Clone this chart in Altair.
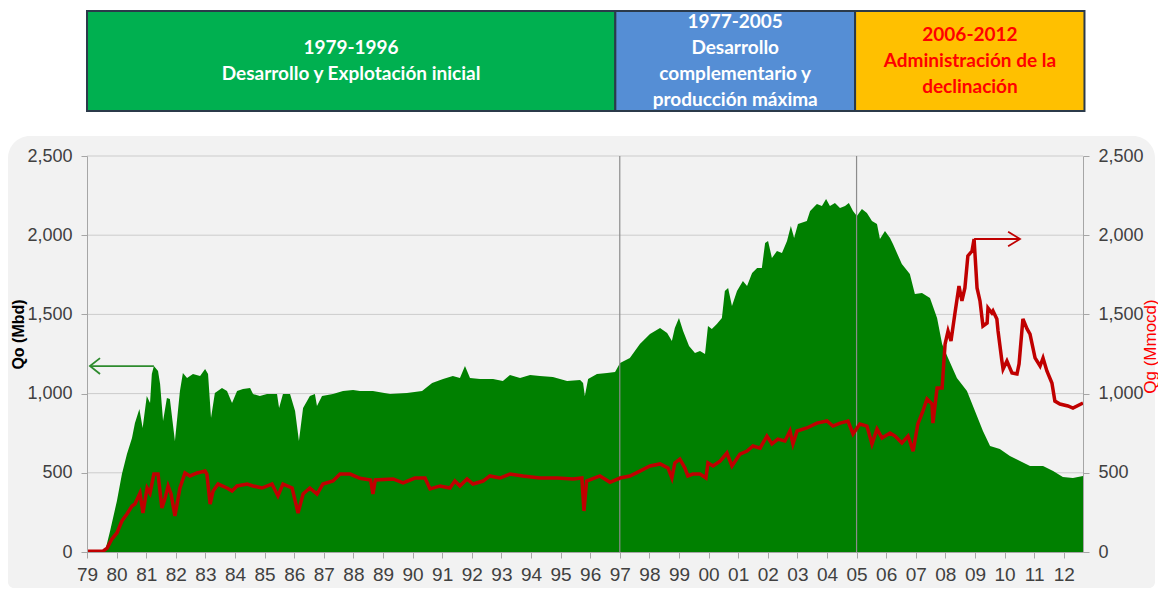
import altair as alt
import pandas as pd

# ---------------- data ----------------
oil_year = [
    1979.00, 1979.54, 1979.61, 1979.78, 1980.01, 1980.18, 1980.35, 1980.52, 1980.62, 1980.77,
    1980.88, 1981.02, 1981.13, 1981.19, 1981.26, 1981.40, 1981.47, 1981.57, 1981.70, 1981.80,
    1981.97, 1982.14, 1982.24, 1982.38, 1982.58, 1982.82, 1982.99, 1983.09, 1983.19, 1983.32,
    1983.56, 1983.73, 1983.90, 1984.07, 1984.27, 1984.51, 1984.61, 1984.84, 1985.08, 1985.25,
    1985.42, 1985.49, 1985.62, 1985.86, 1986.03, 1986.16, 1986.30, 1986.53, 1986.70, 1986.77,
    1986.94, 1987.31, 1987.65, 1987.99, 1988.22, 1988.66, 1989.24, 1989.81, 1990.32, 1990.66,
    1991.03, 1991.36, 1991.60, 1991.77, 1991.94, 1992.28, 1992.72, 1993.05, 1993.29, 1993.63,
    1993.97, 1994.30, 1994.74, 1995.22, 1995.66, 1995.76, 1995.82, 1995.93, 1996.23, 1996.57,
    1996.84, 1997.01, 1997.34, 1997.68, 1998.02, 1998.36, 1998.60, 1998.76, 1998.86, 1999.00,
    1999.14, 1999.34, 1999.54, 1999.71, 1999.88, 1999.98, 2000.11, 2000.28, 2000.45, 2000.55,
    2000.66, 2000.79, 2000.96, 2001.16, 2001.30, 2001.47, 2001.64, 2001.80, 2001.91, 2002.01,
    2002.14, 2002.31, 2002.48, 2002.65, 2002.78, 2002.89, 2003.02, 2003.32, 2003.43, 2003.66,
    2003.83, 2003.97, 2004.10, 2004.27, 2004.44, 2004.61, 2004.74, 2004.88, 2005.01, 2005.18,
    2005.35, 2005.52, 2005.69, 2005.79, 2005.96, 2006.13, 2006.23, 2006.53, 2006.80, 2006.97,
    2007.21, 2007.48, 2007.72, 2007.89, 2008.09, 2008.39, 2008.73, 2009.00, 2009.27, 2009.51,
    2009.84, 2010.18, 2010.52, 2010.86, 2011.30, 2011.64, 2011.97, 2012.31, 2012.65,
]
oil_qo = [
    0, 0, 5, 133, 322, 492, 619, 720, 814, 903,
    783, 985, 941, 1124, 1174, 1143, 1061, 827, 972, 966,
    701, 1016, 1130, 1099, 1124, 1111, 1155, 1124, 846, 1004,
    1035, 1016, 941, 1016, 1029, 1035, 997, 985, 997, 997,
    997, 909, 997, 997, 890, 701, 909, 985, 997, 922,
    985, 997, 1016, 1023, 1016, 1016, 997, 1004, 1016, 1067,
    1092, 1111, 1099, 1174, 1099, 1092, 1092, 1080, 1117, 1099,
    1117, 1111, 1105, 1080, 1086, 1067, 985, 1092, 1124, 1130,
    1136, 1193, 1225, 1313, 1376, 1414, 1383, 1332, 1414, 1477,
    1395, 1300, 1256, 1269, 1250, 1427, 1408, 1439, 1477, 1648,
    1667, 1553, 1648, 1711, 1679, 1761, 1793, 1793, 1951, 1963,
    1856, 1900, 1888, 1963, 2058, 1982, 2071, 2090, 2153, 2197,
    2184, 2228, 2184, 2203, 2172, 2184, 2203, 2153, 2121, 2165,
    2140, 2090, 2071, 1976, 2027, 1982, 1944, 1818, 1755, 1629,
    1635, 1604, 1477, 1313, 1225, 1099, 1016, 890, 764, 669,
    650, 606, 574, 543, 543, 511, 473, 467, 480,
]

gas_year = [
    1979.00, 1979.54, 1979.68, 1979.84, 1980.01, 1980.18, 1980.35, 1980.52, 1980.62, 1980.79,
    1980.89, 1981.03, 1981.13, 1981.26, 1981.40, 1981.53, 1981.64, 1981.74, 1981.84, 1981.97,
    1982.14, 1982.31, 1982.48, 1982.72, 1982.99, 1983.05, 1983.16, 1983.26, 1983.43, 1983.73,
    1983.90, 1984.07, 1984.41, 1984.61, 1984.91, 1985.25, 1985.45, 1985.62, 1985.93, 1986.13,
    1986.30, 1986.53, 1986.77, 1986.97, 1987.31, 1987.55, 1987.89, 1988.22, 1988.58, 1988.66,
    1988.74, 1989.34, 1989.68, 1990.08, 1990.42, 1990.59, 1990.93, 1991.26, 1991.43, 1991.60,
    1991.84, 1992.04, 1992.38, 1992.61, 1992.95, 1993.29, 1993.73, 1994.30, 1994.88, 1995.42,
    1995.72, 1995.79, 1995.88, 1996.33, 1996.67, 1997.01, 1997.34, 1997.68, 1998.02, 1998.36,
    1998.63, 1998.76, 1998.86, 1999.03, 1999.20, 1999.30, 1999.47, 1999.71, 1999.91, 1999.98,
    2000.15, 2000.39, 2000.62, 2000.79, 2001.06, 2001.30, 2001.50, 2001.74, 2001.97, 2002.14,
    2002.34, 2002.58, 2002.75, 2002.85, 2002.99, 2003.32, 2003.66, 2004.00, 2004.20, 2004.44,
    2004.71, 2004.88, 2005.11, 2005.35, 2005.52, 2005.69, 2005.86, 2006.13, 2006.30, 2006.53,
    2006.74, 2006.91, 2007.07, 2007.24, 2007.38, 2007.55, 2007.58, 2007.72, 2007.89, 2007.99,
    2008.09, 2008.19, 2008.32, 2008.46, 2008.56, 2008.66, 2008.76, 2008.90, 2008.97, 2009.07,
    2009.17, 2009.27, 2009.41, 2009.44, 2009.57, 2009.61, 2009.74, 2009.78, 2009.91, 2009.95,
    2010.08, 2010.25, 2010.42, 2010.49, 2010.62, 2010.76, 2010.86, 2011.03, 2011.20, 2011.30,
    2011.43, 2011.60, 2011.70, 2011.87, 2012.14, 2012.31, 2012.65,
]
gas_qg = [
    5, 5, 25, 82, 120, 196, 240, 290, 303, 372,
    246, 404, 372, 492, 492, 278, 341, 417, 366, 227,
    404, 499, 480, 499, 511, 492, 303, 385, 429, 404,
    385, 417, 429, 417, 404, 429, 354, 429, 404, 246,
    366, 404, 366, 429, 448, 492, 492, 465, 455, 366,
    455, 461, 436, 467, 467, 398, 417, 404, 448, 417,
    461, 429, 448, 480, 467, 492, 480, 467, 467, 461,
    467, 259, 448, 480, 440, 467, 480, 511, 543, 556,
    530, 467, 562, 587, 530, 480, 492, 492, 467, 562,
    543, 574, 625, 543, 618, 637, 669, 656, 732, 682,
    713, 701, 764, 682, 764, 783, 814, 827, 795, 814,
    827, 745, 808, 795, 682, 776, 720, 751, 732, 688,
    732, 637, 808, 890, 966, 934, 814, 1035, 1035, 1313,
    1395, 1332, 1503, 1679, 1585, 1667, 1869, 1900, 1976, 1667,
    1585, 1427, 1446, 1540, 1509, 1522, 1471, 1395, 1206, 1155,
    1206, 1130, 1124, 1187, 1471, 1408, 1376, 1225, 1174, 1225,
    1143, 1067, 953, 934, 922, 909, 941,
]

phase_start = [1979.0, 1996.85, 2004.95]
phase_end = [1996.85, 2004.95, 2012.7]
phase_mid = [1987.92, 2000.9, 2008.83]
phase_label = [
    "1979-1996\nDesarrollo y Explotación inicial",
    "1977-2005\nDesarrollo\ncomplementario y\nproducción máxima",
    "2006-2012\nAdministración de la\ndeclinación",
]
phase_fill = ["#00b050", "#558ed5", "#ffc000"]
phase_text_color = ["#ffffff", "#ffffff", "#ff0000"]

marker_years = [1997.0, 2005.0]
grid_values = [500, 1000, 1500, 2000, 2500]
y_ticks = [0, 500, 1000, 1500, 2000, 2500]
year_ticks = list(range(1979, 2013))

arrow_seg = ["g_shaft", "g_shaft", "g_head", "g_head", "g_head",
             "r_shaft", "r_shaft", "r_head", "r_head", "r_head"]
arrow_order = [0, 1, 0, 1, 2, 0, 1, 0, 1, 2]
arrow_x = [1981.26, 1979.10, 1979.44, 1979.10, 1979.44,
           2008.97, 2010.52, 2010.12, 2010.52, 2010.12]
arrow_y = [1174, 1174, 1224, 1174, 1124,
           1976, 1976, 2022, 1976, 1930]
arrow_color = ["#2e8b2e"] * 5 + ["#c00000"] * 5

# ---------------- chart ----------------
W, H = 996, 396
HEADER_H = 100
LABEL_FONT = "Liberation Sans"

oil_df = pd.DataFrame({"year": oil_year, "v": oil_qo})
gas_df = pd.DataFrame({"year": gas_year, "v": gas_qg})
phase_df = pd.DataFrame({
    "start": phase_start, "end": phase_end, "mid": phase_mid,
    "label": phase_label, "fill": phase_fill, "tcol": phase_text_color,
})
marker_df = pd.DataFrame({"year": marker_years})
grid_df = pd.DataFrame({"v": grid_values})
arrow_df = pd.DataFrame({"seg": arrow_seg, "i": arrow_order, "year": arrow_x,
                         "v": arrow_y, "col": arrow_color})

xscale = alt.Scale(domain=[1979, 2012.65], nice=False, zero=False)
yscale = alt.Scale(domain=[0, 2500], nice=False)

x_axis = alt.Axis(
    values=year_ticks, title=None, grid=False, zindex=1,
    labelExpr="datum.value % 100 < 10 ? '0' + (datum.value % 100) : '' + (datum.value % 100)",
    labelFlush=False, labelOverlap=False, labelFont=LABEL_FONT, labelFontSize=19,
    labelColor="#404040", labelPadding=7, tickSize=6, tickColor="#a6a6a6",
    domainColor="#a6a6a6",
)
X = alt.X("year:Q", scale=xscale, axis=x_axis)

left_axis = alt.Axis(
    orient="left", values=y_ticks, format=",.0f", grid=False, zindex=1,
    tickSize=6, tickColor="#a6a6a6", domainColor="#a6a6a6",
    labelFont=LABEL_FONT, labelFontSize=18, labelColor="#404040", labelPadding=9,
    title="Qo (Mbd)", titleFont="Liberation Sans", titleFontSize=16,
    titleFontWeight="bold", titleColor="#000000", titleAngle=270,
    titleX=-69, titleY=178, titleAlign="center", titleBaseline="middle",
)
right_axis = alt.Axis(
    orient="right", values=y_ticks, format=",.0f", grid=False, zindex=1,
    tickSize=6, tickColor="#a6a6a6", domainColor="#a6a6a6",
    labelFont=LABEL_FONT, labelFontSize=18, labelColor="#404040", labelPadding=9,
    title="Qg (Mmocd)", titleFont="Liberation Sans", titleFontSize=17,
    titleFontWeight="normal", titleColor="#ff0000", titleAngle=270,
    titleX=67, titleY=190, titleAlign="center", titleBaseline="middle",
)

panel = alt.Chart(pd.DataFrame({"k": [0]})).mark_rect(
    color="#f2f2f2", cornerRadiusTopLeft=22, cornerRadiusTopRight=22,
    cornerRadiusBottomLeft=6, cornerRadiusBottomRight=6,
).encode(
    x=alt.value(-79), x2=alt.value(W + 72), y=alt.value(-20), y2=alt.value(H + 36)
)

grid = alt.Chart(grid_df).mark_rule(color="#cccccc", strokeWidth=1).encode(
    y=alt.Y("v:Q", scale=yscale, axis=None)
)

area = alt.Chart(oil_df).mark_area(color="#008000", interpolate="linear").encode(
    x=X, y=alt.Y("v:Q", scale=yscale, axis=left_axis)
)

rules = alt.Chart(marker_df).mark_rule(color="#8c8c8c", strokeWidth=1.2).encode(x=X)

line = alt.Chart(gas_df).mark_line(color="#c00000", strokeWidth=3.5).encode(
    x=X, y=alt.Y("v:Q", scale=yscale, axis=right_axis)
)

arrows = alt.Chart(arrow_df).mark_line(strokeWidth=1.8).encode(
    x=X,
    y=alt.Y("v:Q", scale=yscale, axis=None),
    detail="seg:N",
    order="i:Q",
    color=alt.Color("col:N", scale=None),
)

main = (
    alt.layer(panel, grid, area, rules, line, arrows)
    .resolve_scale(y="shared")
    .resolve_axis(y="independent")
    .properties(width=W, height=H)
)

hx = alt.Scale(domain=[1979, 2012.65], nice=False, zero=False)
hy = alt.Scale(domain=[0, 1], nice=False)

boxes = alt.Chart(phase_df).mark_rect(stroke="#2b3a4a", strokeWidth=2).encode(
    x=alt.X("start:Q", scale=hx, axis=None),
    x2="end:Q",
    y=alt.Y("y0:Q", scale=hy, axis=None),
    y2="y1:Q",
    fill=alt.Fill("fill:N", scale=None),
).transform_calculate(y0="0", y1="1")

# centre each multi-line label block vertically in its box (26 px line height)
labels = alt.Chart(phase_df).mark_text(
    font="Lato", fontWeight="bold", fontSize=19, lineBreak="\n", lineHeight=26,
    baseline="middle", align="center",
).encode(
    x=alt.X("mid:Q", scale=hx, axis=None),
    y=alt.Y("yc:Q", scale=hy, axis=None),
    text="label:N",
    color=alt.Color("tcol:N", scale=None),
).transform_calculate(
    yc="0.5 + (length(split(datum.label, '\\n')) - 1) * 0.13"
)

header = alt.layer(boxes, labels).properties(width=W, height=HEADER_H)

chart = (
    alt.vconcat(header, main, spacing=45, bounds="flush")
    .properties(padding={"left": 0, "top": 2, "right": 0, "bottom": 0})
    .configure_view(stroke=None)
)

chart.save("out.html", embed_options={"renderer": "svg", "actions": False})
